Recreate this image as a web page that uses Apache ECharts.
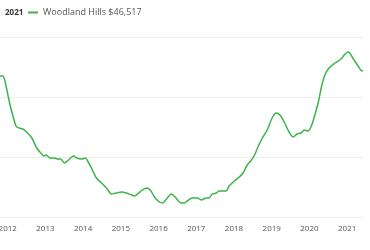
<!DOCTYPE html>
<html><head><meta charset="utf-8">
<script src="https://cdn.jsdelivr.net/npm/echarts@6/dist/echarts.min.js"></script>
<style>html,body{margin:0;padding:0;background:#fff;overflow:hidden;width:370px;height:250px}#c{width:400px;height:250px;margin-left:-30px}</style>
</head><body><div id="c"></div>
<script>
const seriesName = 'Woodland Hills';
const legendLabel = 'Woodland Hills $46,517';
const headerText = '2021';
const dates = [2011.79,2011.87,2011.92,2012.05,2012.19,2012.24,2012.40,2012.50,2012.64,2012.77,2012.90,2012.95,2013.03,2013.11,2013.24,2013.32,2013.40,2013.51,2013.64,2013.75,2013.83,2013.96,2014.06,2014.12,2014.22,2014.35,2014.49,2014.62,2014.75,2014.88,2015.02,2015.15,2015.28,2015.36,2015.44,2015.57,2015.68,2015.78,2015.89,2016.02,2016.10,2016.21,2016.34,2016.44,2016.55,2016.63,2016.68,2016.76,2016.89,2017.03,2017.13,2017.27,2017.34,2017.42,2017.53,2017.61,2017.69,2017.79,2017.87,2018.01,2018.14,2018.24,2018.35,2018.46,2018.56,2018.61,2018.75,2018.88,2019.01,2019.12,2019.22,2019.33,2019.46,2019.57,2019.67,2019.78,2019.86,2019.96,2020.04,2020.12,2020.23,2020.33,2020.41,2020.52,2020.68,2020.84,2020.92,2021.02,2021.07,2021.15,2021.29,2021.39,2021.42];
const values = [45937,45937,45521,43125,41042,40625,40417,40104,39479,38438,37813,37604,37708,37396,37396,37292,37292,36875,37292,37604,37396,37292,37396,37083,36354,35313,34792,34271,33646,33750,33854,33750,33542,33438,33646,34063,34271,34063,33333,32813,32708,33125,33646,33333,32813,32708,32708,32917,33229,33229,33021,33229,33229,33646,33750,33958,33958,33958,34479,35000,35417,35833,36667,37188,37813,38333,39479,40313,41563,42083,41875,41146,40104,39583,39896,40000,40313,40208,40625,41563,43125,44999,46042,46771,47292,47708,48125,48438,48333,47813,46979,46458,46517];
const yearTicks = [2011,2012,2013,2014,2015,2016,2017,2018,2019,2020,2021];

const chart = echarts.init(document.getElementById('c'), null, {renderer:'canvas'});
chart.setOption({
  animation:false,
  textStyle:{fontFamily:'Open Sans'},
  title:{text:headerText,left:30,top:4,textStyle:{fontSize:8,fontWeight:'bold',color:'#333',fontFamily:'Open Sans'}},
  legend:{left:53,top:3,icon:'rect',itemWidth:10,itemHeight:2,itemGap:4,
    data:[seriesName],formatter:()=>legendLabel,
    textStyle:{fontSize:9,color:'#555',fontFamily:'Open Sans'}},
  grid:{left:0,right:7,top:37,bottom:33,containLabel:false},
  xAxis:{type:'value',min:yearTicks[0],max:2021.42,interval:1,
    axisLine:{show:true,lineStyle:{color:'#eeeeee'}},axisTick:{show:false},splitLine:{show:false},
    axisLabel:{color:'#555',fontSize:8,margin:8,showMaxLabel:false,showMinLabel:false,
      formatter:v=>Number.isInteger(v)?String(v):''}},
  yAxis:{type:'value',min:31250,max:50000,interval:6250,
    axisLabel:{show:false},axisLine:{show:false},axisTick:{show:false},
    splitLine:{lineStyle:{color:'#eeeeee'}}},
  series:[{name:seriesName,type:'line',smooth:0.3,symbol:'none',
    lineStyle:{width:1.5,color:'#3cb44b'},itemStyle:{color:'#3cb44b'},
    data:dates.map((d,i)=>[d,values[i]])}]
});
</script></body></html>
